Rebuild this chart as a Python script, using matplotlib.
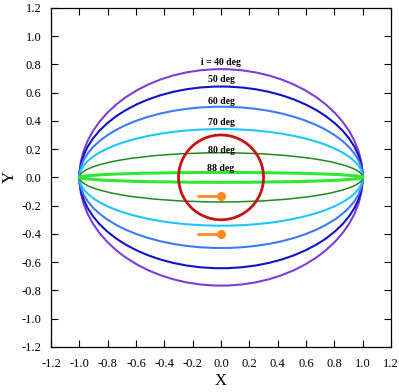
import matplotlib
matplotlib.use("Agg")
import matplotlib.pyplot as plt
from matplotlib.patches import Ellipse, Circle

# projected orbits: semi-major axis 1, semi-minor axis
incl_labels = ["i = 40 deg", "50 deg", "60 deg", "70 deg", "80 deg", "88 deg"]
semi_minor = [0.766, 0.643, 0.50, 0.342, 0.174, 0.035]
label_y = [0.81, 0.69, 0.535, 0.39, 0.19, 0.06]
colors = ["#7b3fd6", "#1212c4", "#3b7cf5", "#1fc6ff", "#1f8a1f", "#33e633"]
widths = [1.5, 1.5, 1.5, 1.5, 1.1, 2.2]

star_radius = 0.3
marker_y = [-0.135, -0.40]
marker_x0 = [-0.17, -0.17]
marker_x1 = [0.0, 0.0]

ticks = [-1.2, -1.0, -0.8, -0.6, -0.4, -0.2, 0.0, 0.2, 0.4, 0.6, 0.8, 1.0, 1.2]

plt.rcParams["font.family"] = ["Liberation Serif", "DejaVu Serif"]

fig = plt.figure(figsize=(3.99, 3.92), dpi=100)
ax = fig.add_axes([0.128, 0.115, 0.852, 0.865])

for b, c, w in zip(semi_minor, colors, widths):
    ax.add_patch(Ellipse((0, 0), 2.0, 2 * b, fill=False, edgecolor=c, lw=w))

ax.add_patch(Circle((0, 0), star_radius, fill=False, edgecolor="#c41414", lw=2.0))

for y, x0, x1 in zip(marker_y, marker_x0, marker_x1):
    ax.plot([x0, x1], [y, y], color="#ff8a1e", lw=2.0, solid_capstyle="butt")
    ax.plot([x1], [y], "o", color="#ff8a1e", ms=5.5)

for txt, y in zip(incl_labels, label_y):
    ax.text(0, y, txt, ha="center", va="center", fontsize=7, fontweight="bold")

ax.set_xlim(-1.2, 1.2)
ax.set_ylim(-1.2, 1.2)
ax.set_xticks(ticks)
ax.set_yticks(ticks)
ax.set_xticklabels([f"{t:.1f}" for t in ticks])
ax.set_yticklabels([f"{t:.1f}" for t in ticks])
ax.tick_params(direction="in", top=True, right=True, length=5, width=0.8,
               labelsize=9)
ax.tick_params(axis="x", pad=8)
ax.tick_params(axis="y", pad=7)
for s in ax.spines.values():
    s.set_linewidth(0.9)
ax.set_xlabel("X", fontsize=12, labelpad=2)
ax.set_ylabel("Y", fontsize=12, labelpad=3)

fig.savefig("out.png", dpi=100)
